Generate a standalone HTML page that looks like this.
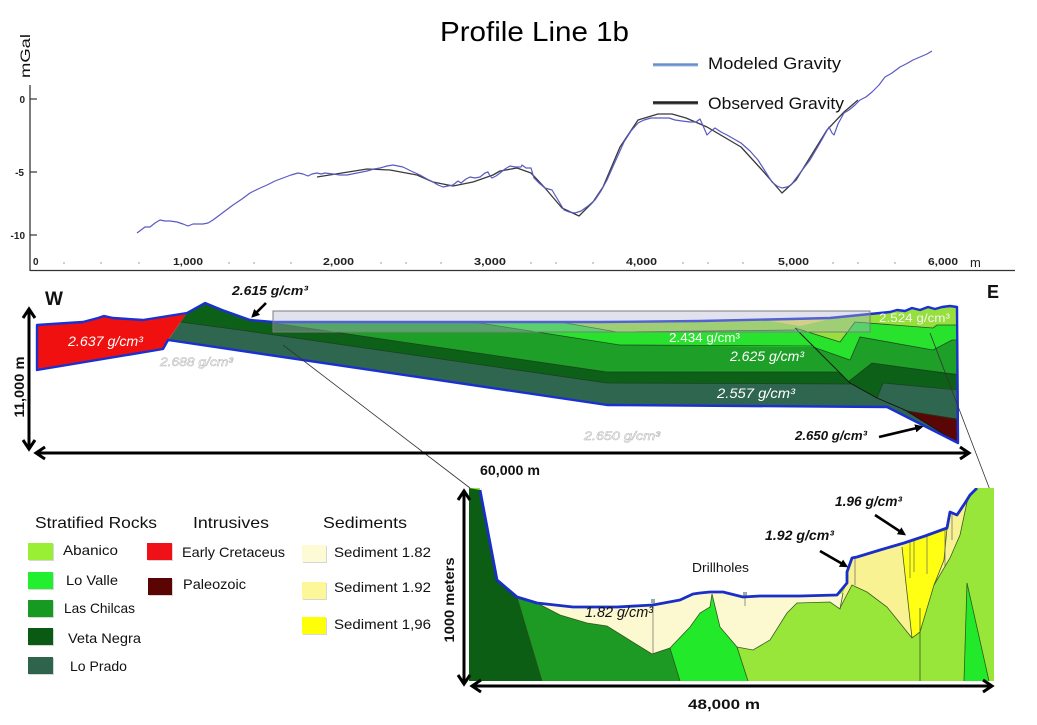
<!DOCTYPE html>
<html>
<head>
<meta charset="utf-8">
<style>
  html,body{margin:0;padding:0;background:#fff;}
  svg{display:block;}
  text{font-family:"Liberation Sans", Arial, sans-serif;}
</style>
</head>
<body>
<svg width="1037" height="725" viewBox="0 0 1037 725" xmlns="http://www.w3.org/2000/svg">
  <defs>
    <clipPath id="sec">
      <polygon points="187,313 205,303 222,310 250,320 273,322 400,322 500,322 600,322 700,321 790,319 830,318 870,314 880,313 890,312 897,310 905,311 912,308 920,310 928,307 935,309 942,307 950,306 957,307 958,443 887,407 607,405 168,340"/>
    </clipPath>
    <clipPath id="rb">
      <polygon points="795,290 795,328 850,383 877,398 905,410 958,443 965,443 965,290"/>
    </clipPath>
    <clipPath id="ins">
      <rect x="469" y="488" width="525" height="193"/>
    </clipPath>
    <marker id="ah" viewBox="0 0 10 10" refX="7" refY="5" markerWidth="3.2" markerHeight="3.2" orient="auto">
      <path d="M0,0 L10,5 L0,10 Z" fill="#000"/>
    </marker>
    <linearGradient id="lg" x1="0" y1="0" x2="0" y2="1">
      <stop offset="0" stop-color="#a9c3e6"/>
      <stop offset="0.5" stop-color="#5d86c6"/>
      <stop offset="1" stop-color="#a9c3e6"/>
    </linearGradient>
    <linearGradient id="lk" x1="0" y1="0" x2="0" y2="1">
      <stop offset="0" stop-color="#777"/>
      <stop offset="0.5" stop-color="#111"/>
      <stop offset="1" stop-color="#777"/>
    </linearGradient>
  </defs>

  <rect x="0" y="0" width="1037" height="725" fill="#fff"/>

  <!-- ================= TOP GRAVITY CHART ================= -->
  <text x="440" y="41" font-size="28" textLength="189" lengthAdjust="spacingAndGlyphs" fill="#000">Profile Line 1b</text>
  <text transform="translate(30,56) rotate(-90)" font-size="14" text-anchor="middle" textLength="44" lengthAdjust="spacingAndGlyphs" fill="#111">mGal</text>

  <!-- axes -->
  <line x1="30" y1="85" x2="30" y2="271" stroke="#444" stroke-width="1.4"/>
  <line x1="30" y1="270.5" x2="1015" y2="270.5" stroke="#333" stroke-width="1.3"/>
  <line x1="30" y1="99" x2="37" y2="99" stroke="#333" stroke-width="1.2"/>
  <line x1="30" y1="172" x2="37" y2="172" stroke="#333" stroke-width="1.2"/>
  <line x1="30" y1="235" x2="37" y2="235" stroke="#333" stroke-width="1.2"/>
  <g font-size="10" font-weight="bold" fill="#222" text-anchor="end">
    <text x="25" y="103">0</text>
    <text x="24" y="176">-5</text>
    <text x="25" y="239">-10</text>
  </g>
  <!-- minor dots -->
  <g fill="#cfcfcf">
    <rect x="63" y="262" width="2" height="2"/><rect x="100" y="262" width="2" height="2"/><rect x="138" y="262" width="2" height="2"/>
    <rect x="228" y="262" width="2" height="2"/><rect x="253" y="262" width="2" height="2"/><rect x="290" y="262" width="2" height="2"/>
    <rect x="380" y="262" width="2" height="2"/><rect x="405" y="262" width="2" height="2"/><rect x="440" y="262" width="2" height="2"/>
    <rect x="530" y="262" width="2" height="2"/><rect x="555" y="262" width="2" height="2"/><rect x="592" y="262" width="2" height="2"/>
    <rect x="682" y="262" width="2" height="2"/><rect x="707" y="262" width="2" height="2"/><rect x="742" y="262" width="2" height="2"/>
    <rect x="832" y="262" width="2" height="2"/><rect x="857" y="262" width="2" height="2"/><rect x="894" y="262" width="2" height="2"/>
  </g>
  <g font-size="10" font-weight="bold" fill="#222">
    <text x="33" y="265">0</text>
    <text x="173" y="265" textLength="30" lengthAdjust="spacingAndGlyphs">1,000</text>
    <text x="323" y="265" textLength="31" lengthAdjust="spacingAndGlyphs">2,000</text>
    <text x="474" y="265" textLength="32" lengthAdjust="spacingAndGlyphs">3,000</text>
    <text x="626" y="265" textLength="31" lengthAdjust="spacingAndGlyphs">4,000</text>
    <text x="778" y="265" textLength="31" lengthAdjust="spacingAndGlyphs">5,000</text>
    <text x="928" y="265" textLength="30" lengthAdjust="spacingAndGlyphs">6,000</text>
  </g>
  <text x="970" y="267" font-size="13" fill="#222">m</text>

  <!-- observed (black) -->
  <polyline fill="none" stroke="#3a3a3a" stroke-width="1.3" stroke-linejoin="round"
    points="317,177 367,169 390,170 417,175 433,182 453,186 473,182 493,175 500,171 517,168 531,173 545,188 562,208 579,216 593,202 603,187 620,147 638,120 658,114 672,114 686,118 707,127 741,147 762,170 782,193 796,180 827,130 844,112 858,100"/>
  <!-- modeled (blue) -->
  <polyline fill="none" stroke="#5a5ac4" stroke-width="1.2" stroke-linejoin="round"
    points="137,233 141,230 145,227 150,227 155,223 160,220 165,221 170,221 177,222 183,224 188,226 193,224 197,224 203,224 208,223 213,220 217,217 225,211 233,205 242,199 250,193 258,189 267,185 275,181 283,178 291,175 298,173 303,174 308,176 312,174 317,173 321,174 325,173 333,174 340,175 347,175 357,173 367,171 374,169 380,168 387,166 393,165 398,166 403,167 411,171 420,175 427,179 433,182 438,185 443,187 448,186 453,185 458,181 461,183 466,179 470,177 475,178 480,177 485,173 488,172 490,176 492,178 496,176 500,173 505,169 510,166 515,167 521,167 522,165 526,168 531,168 534,178 539,183 545,188 552,190 558,200 564,210 569,212 575,213 581,211 588,206 595,200 601,191 607,180 615,162 624,142 631,131 638,123 644,120 651,118 660,118 669,118 675,120 682,121 690,122 696,122 700,119 704,128 707,135 711,131 715,128 721,132 727,135 734,139 741,143 750,151 758,160 765,171 772,182 777,186 782,188 787,187 791,185 800,173 810,160 820,143 829,127 832,133 834,135 838,124 844,113 849,110 855,105 860,100 866,97 872,92 879,85 885,77 892,73 900,67 906,64 913,60 920,57 927,54 932,51"/>

  <!-- legend -->
  <rect x="653" y="63" width="45" height="3.5" fill="url(#lg)"/>
  <text x="708" y="69" font-size="17" fill="#111" textLength="133" lengthAdjust="spacingAndGlyphs">Modeled Gravity</text>
  <rect x="653" y="101" width="45" height="3.5" fill="url(#lk)"/>
  <text x="708" y="109" font-size="17" fill="#111" textLength="136" lengthAdjust="spacingAndGlyphs">Observed Gravity</text>

  <!-- ================= CROSS SECTION ================= -->
  <text x="45" y="305" font-size="19" font-weight="bold" fill="#111">W</text>
  <text x="987" y="298" font-size="18" font-weight="bold" fill="#111">E</text>

  <!-- left block layers -->
  <g clip-path="url(#sec)">
    <rect x="150" y="280" width="820" height="180" fill="#2f6650"/>
    <polygon points="150,280 965,280 965,384 607,383 240,330 180,322 150,318" fill="#0d6017"/>
    <polygon points="273,280 965,280 965,372 607,372 273,323" fill="#1e9f28"/>
    <polygon points="473,280 965,280 965,346 800,347 620,345 473,322" fill="#28e22e"/>
    <polygon points="560,280 965,280 965,331 795,330 617,332 560,322" fill="#96df3c"/>
    <!-- right block -->
    <g clip-path="url(#rb)">
      <rect x="790" y="280" width="175" height="170" fill="#2f6650"/>
      <polygon points="790,280 965,280 965,390 883,383 877,398 870,430 790,430" fill="#0d6017"/>
      <polygon points="790,280 965,280 965,375 872,363 848,382 840,400 790,400" fill="#1e9f28"/>
      <polygon points="790,280 965,280 965,340 952,340 933,350 860,337 850,360 813,347 790,345" fill="#28e22e"/>
      <polygon points="790,280 965,280 965,325 937,325 933,328 855,322 840,342 795,328" fill="#96df3c"/>
      <polygon points="903,410 965,420 965,450" fill="#5a0606"/>
    </g>
    <!-- sediment sliver -->
    <polygon points="770,321 830,319 800,326" fill="#e8e060"/>
    <!-- internal boundary lines -->
    <g fill="none" stroke="#1c3b1c" stroke-width="0.8" opacity="0.85">
      <polyline points="180,322 240,330 607,383 851,384"/>
      <polyline points="273,323 607,372 839,372"/>
      <polyline points="473,322 620,345 813,346"/>
      <polyline points="560,322 617,332 795,330"/>
      <polyline points="795,328 840,342 855,322 933,328 937,325 958,325"/>
      <polyline points="813,347 850,360 860,337 933,350 952,340 958,340"/>
      <polyline points="848,382 872,363 958,375"/>
      <polyline points="877,398 883,383 958,390"/>
      <polyline points="903,410 958,420"/>
    </g>
    <polyline points="795,328 850,383 877,398 905,410 958,443" fill="none" stroke="#111" stroke-width="0.9"/>
  </g>

  <!-- red intrusive -->
  <polygon points="37,325 52,324 83,322 98,318 104,316 113,318 143,320 187,313 170,337 163,349 37,370" fill="#f01010"/>

  <!-- blue outline -->
  <path d="M37,325 L52,324 83,322 98,318 104,316 113,318 143,320 187,313 205,303 222,310 250,320 273,322 400,322 500,322 600,322 700,321 790,319 830,318 870,314 880,313 890,312 897,310 905,311 912,308 920,310 928,307 935,309 942,307 950,306 957,307 958,443 887,407 607,405 168,340 163,349 37,370 Z"
        fill="none" stroke="#1a30d0" stroke-width="2.4" stroke-linejoin="round"/>

  <!-- zoom box overlay -->
  <rect x="273" y="311" width="597" height="21" fill="rgba(175,180,210,0.38)" stroke="#7d7d7d" stroke-width="1"/>

  <!-- connector lines -->
  <line x1="283" y1="345" x2="470" y2="488" stroke="#333" stroke-width="0.8"/>
  <line x1="930" y1="333" x2="990" y2="490" stroke="#333" stroke-width="0.8"/>

  <!-- section labels -->
  <text x="232" y="295" font-size="13" font-style="italic" font-weight="bold" fill="#111" textLength="76" lengthAdjust="spacingAndGlyphs">2.615 g/cm³</text>
  <line x1="266" y1="303" x2="253" y2="316" stroke="#000" stroke-width="2.6" marker-end="url(#ah)"/>
  <text x="68" y="346" font-size="14" font-style="italic" fill="#fff" textLength="75" lengthAdjust="spacingAndGlyphs">2.637 g/cm³</text>
  <text x="160" y="366" font-size="12" font-style="italic" fill="#fff" stroke="#b8b8b8" stroke-width="0.5" textLength="73" lengthAdjust="spacingAndGlyphs">2.688 g/cm³</text>
  <text x="669" y="342" font-size="13" fill="#fff" textLength="71" lengthAdjust="spacingAndGlyphs">2.434 g/cm³</text>
  <text x="730" y="361" font-size="14" font-style="italic" fill="#fff" textLength="74" lengthAdjust="spacingAndGlyphs">2.625 g/cm³</text>
  <text x="717" y="398" font-size="14" font-style="italic" fill="#fff" textLength="78" lengthAdjust="spacingAndGlyphs">2.557 g/cm³</text>
  <text x="879" y="322" font-size="12" fill="#f4f4f4" textLength="71" lengthAdjust="spacingAndGlyphs">2.524 g/cm³</text>
  <text x="584" y="440" font-size="12" font-style="italic" fill="#fff" stroke="#b8b8b8" stroke-width="0.5" textLength="76" lengthAdjust="spacingAndGlyphs">2.650 g/cm³</text>
  <text x="795" y="440" font-size="13" font-style="italic" font-weight="bold" fill="#111" textLength="72" lengthAdjust="spacingAndGlyphs">2.650 g/cm³</text>
  <line x1="879" y1="437" x2="921" y2="427" stroke="#000" stroke-width="2.6" marker-end="url(#ah)"/>

  <!-- 11,000 m arrow -->
  <line x1="29" y1="310" x2="29" y2="448" stroke="#000" stroke-width="3"/>
  <polyline points="23,318 29,309 35,318" fill="none" stroke="#000" stroke-width="3"/>
  <polyline points="23,440 29,449 35,440" fill="none" stroke="#000" stroke-width="3"/>
  <text transform="translate(24,387) rotate(-90)" font-size="14" font-weight="bold" fill="#111" text-anchor="middle" textLength="61" lengthAdjust="spacingAndGlyphs">11,000 m</text>
  <!-- 60,000 m arrow -->
  <line x1="36" y1="453" x2="968" y2="453" stroke="#000" stroke-width="3"/>
  <polyline points="45,447 36,453 45,459" fill="none" stroke="#000" stroke-width="3"/>
  <polyline points="960,447 969,453 960,459" fill="none" stroke="#000" stroke-width="3"/>
  <text x="480" y="475" font-size="14" font-weight="bold" fill="#111" textLength="60" lengthAdjust="spacingAndGlyphs">60,000 m</text>

  <!-- ================= LEGEND ================= -->
  <text x="35" y="528" font-size="16" fill="#111" textLength="122" lengthAdjust="spacingAndGlyphs">Stratified Rocks</text>
  <text x="193" y="528" font-size="16" fill="#111" textLength="76" lengthAdjust="spacingAndGlyphs">Intrusives</text>
  <text x="323" y="528" font-size="16" fill="#111" textLength="84" lengthAdjust="spacingAndGlyphs">Sediments</text>

  <g>
    <rect x="29" y="544" width="25" height="17" fill="#bbb" opacity="0.6"/>
    <rect x="28" y="543" width="25" height="17" fill="#99ef33"/>
    <rect x="29" y="573" width="25" height="17" fill="#bbb" opacity="0.6"/>
    <rect x="28" y="572" width="25" height="17" fill="#22f02e"/>
    <rect x="29" y="601" width="25" height="17" fill="#bbb" opacity="0.6"/>
    <rect x="28" y="600" width="25" height="17" fill="#169a22"/>
    <rect x="29" y="629" width="25" height="17" fill="#bbb" opacity="0.6"/>
    <rect x="28" y="628" width="25" height="17" fill="#0a5a14"/>
    <rect x="29" y="658" width="25" height="17" fill="#bbb" opacity="0.6"/>
    <rect x="28" y="657" width="25" height="17" fill="#2e644c"/>

    <rect x="148" y="544" width="25" height="17" fill="#bbb" opacity="0.6"/>
    <rect x="147" y="543" width="25" height="17" fill="#f01018"/>
    <rect x="149" y="579" width="24" height="17" fill="#bbb" opacity="0.6"/>
    <rect x="148" y="578" width="24" height="17" fill="#5a0404"/>

    <rect x="303" y="546" width="24" height="17" fill="#bbb" opacity="0.6"/>
    <rect x="302" y="545" width="24" height="17" fill="#fdfbd6"/>
    <rect x="303" y="583" width="24" height="17" fill="#bbb" opacity="0.6"/>
    <rect x="302" y="582" width="24" height="17" fill="#fdf79a"/>
    <rect x="303" y="618" width="24" height="17" fill="#bbb" opacity="0.6"/>
    <rect x="302" y="617" width="24" height="17" fill="#ffff08"/>
  </g>
  <g font-size="14" fill="#111">
    <text x="63" y="555" textLength="55" lengthAdjust="spacingAndGlyphs">Abanico</text>
    <text x="66" y="585" textLength="52" lengthAdjust="spacingAndGlyphs">Lo Valle</text>
    <text x="64" y="613" textLength="71" lengthAdjust="spacingAndGlyphs">Las Chilcas</text>
    <text x="68" y="643" textLength="73" lengthAdjust="spacingAndGlyphs">Veta Negra</text>
    <text x="70" y="671" textLength="57" lengthAdjust="spacingAndGlyphs">Lo Prado</text>
    <text x="182" y="557" textLength="103" lengthAdjust="spacingAndGlyphs">Early Cretaceus</text>
    <text x="183" y="589" textLength="63" lengthAdjust="spacingAndGlyphs">Paleozoic</text>
    <text x="334" y="557" textLength="97" lengthAdjust="spacingAndGlyphs">Sediment 1.82</text>
    <text x="334" y="592" textLength="97" lengthAdjust="spacingAndGlyphs">Sediment 1.92</text>
    <text x="334" y="629" textLength="97" lengthAdjust="spacingAndGlyphs">Sediment 1,96</text>
  </g>

  <!-- ================= INSET ================= -->
  <g clip-path="url(#ins)">
    <rect x="469" y="488" width="525" height="193" fill="#98e63a"/>
    <!-- white above surface -->
    <polygon points="480,490 497,580 517,597 537,603 573,607 617,607 653,605 680,600 693,594 700,593 710,592 723,592 743,597 760,596 800,596 837,595 847,583 847,572 852,558 857,557 880,550 904,543 925,536 947,528 950,512 957,515 965,503 970,495 977,488 977,480 480,480" fill="#fff"/>
    <!-- cream sediment 1.82 -->
    <polygon points="537,603 573,607 617,607 653,605 680,600 693,594 700,593 710,592 723,592 743,597 760,596 800,596 837,595 843,593 840,609 830,602 797,603 787,613 770,640 753,650 737,647 700,681 540,681" fill="#fcf9d0"/>
    <!-- Veta Negra -->
    <polygon points="469,488 480,490 497,580 517,597 542,681 469,681" fill="#0b5e14"/>
    <!-- Las Chilcas -->
    <polygon points="517,597 537,603 560,615 587,623 607,626 652,654 670,648 680,681 542,681" fill="#1c9a24"/>
    <!-- Lo Valle -->
    <polygon points="670,648 690,627 700,613 710,607 712,594 720,627 737,647 748,681 680,681" fill="#22ea2a"/>
    <!-- Sediment 1.92 -->
    <polygon points="843,593 847,583 847,572 852,558 857,557 880,550 904,543 925,536 947,528 950,512 957,515 965,503 970,495 967,502 960,535 950,558 934,585 920,632 912,638 887,607 867,592 852,585 840,608" fill="#f9f293"/>
    <!-- Sediment 1.96 -->
    <polygon points="902,547 925,536 947,528 944,560 934,585 920,632 912,638" fill="#ffff14"/>
    <!-- lo valle triangle -->
    <polygon points="967,583 964,681 989,681" fill="#22ea2a"/>
    <!-- boundary lines -->
    <g fill="none" stroke="#2c4a1a" stroke-width="0.8" opacity="0.9">
      <polyline points="517,597 542,681"/>
      <polyline points="537,603 560,615 587,623 607,626 652,654 670,648 680,681"/>
      <polyline points="670,648 690,627 700,613 710,607 712,594"/>
      <polyline points="712,594 720,627 737,647 748,681"/>
      <polyline points="737,647 753,650 770,640 787,613 797,603 830,602 840,609 843,593"/>
      <polyline points="840,608 852,585 867,592 887,607 912,638 920,632 934,585 950,558 960,535 967,502 970,495"/>
      <polyline points="902,547 912,638"/>
      <polyline points="947,528 944,560 934,585"/>
      <polyline points="920,608 920,681"/>
      <polyline points="967,583 964,681"/>
      <polyline points="967,583 989,681"/>
    </g>
    <!-- drillholes -->
    <g stroke="#666" stroke-width="0.7">
      <line x1="653" y1="603" x2="653" y2="655"/>
      <line x1="745" y1="596" x2="745" y2="606"/>
      <line x1="855" y1="558" x2="855" y2="585"/>
      <line x1="910" y1="541" x2="910" y2="578"/>
      <line x1="914" y1="540" x2="914" y2="572"/>
      <line x1="927" y1="535" x2="927" y2="574"/>
      <line x1="945" y1="529" x2="945" y2="566"/>
      <line x1="952" y1="512" x2="952" y2="540"/>
    </g>
    <g fill="#9aa" >
      <rect x="651" y="599" width="4" height="4"/>
      <rect x="743" y="592" width="4" height="4"/>
    </g>
    <!-- surface line -->
    <polyline points="480,490 497,580 517,597 537,603 573,607 617,607 653,605 680,600 693,594 700,593 710,592 723,592 743,597 760,596 800,596 837,595 847,583 847,572 852,558 857,557 880,550 904,543 925,536 947,528 950,512 957,515 965,503 970,495 977,488"
      fill="none" stroke="#1a2ec8" stroke-width="2.8" stroke-linejoin="round"/>
  </g>

  <!-- inset labels -->
  <text x="585" y="617" font-size="15" font-style="italic" fill="#111" textLength="68" lengthAdjust="spacingAndGlyphs">1.82 g/cm³</text>
  <text x="692" y="572" font-size="13" fill="#111" textLength="57" lengthAdjust="spacingAndGlyphs">Drillholes</text>
  <text x="765" y="540" font-size="14" font-style="italic" font-weight="bold" fill="#111" textLength="69" lengthAdjust="spacingAndGlyphs">1.92 g/cm³</text>
  <line x1="820" y1="551" x2="846" y2="566" stroke="#000" stroke-width="2.6" marker-end="url(#ah)"/>
  <text x="835" y="506" font-size="14" font-style="italic" font-weight="bold" fill="#111" textLength="67" lengthAdjust="spacingAndGlyphs">1.96 g/cm³</text>
  <line x1="875" y1="515" x2="904" y2="534" stroke="#000" stroke-width="2.6" marker-end="url(#ah)"/>

  <!-- inset arrows -->
  <line x1="464" y1="492" x2="464" y2="683" stroke="#000" stroke-width="3"/>
  <polyline points="458,500 464,491 470,500" fill="none" stroke="#000" stroke-width="3"/>
  <polyline points="458,675 464,684 470,675" fill="none" stroke="#000" stroke-width="3"/>
  <text transform="translate(454,600) rotate(-90)" font-size="14" font-weight="bold" fill="#111" text-anchor="middle" textLength="85" lengthAdjust="spacingAndGlyphs">1000 meters</text>
  <line x1="472" y1="686" x2="991" y2="686" stroke="#000" stroke-width="3"/>
  <polyline points="481,680 472,686 481,692" fill="none" stroke="#000" stroke-width="3"/>
  <polyline points="983,680 992,686 983,692" fill="none" stroke="#000" stroke-width="3"/>
  <text x="688" y="709" font-size="14" font-weight="bold" fill="#111" textLength="72" lengthAdjust="spacingAndGlyphs">48,000 m</text>
</svg>
</body>
</html>
